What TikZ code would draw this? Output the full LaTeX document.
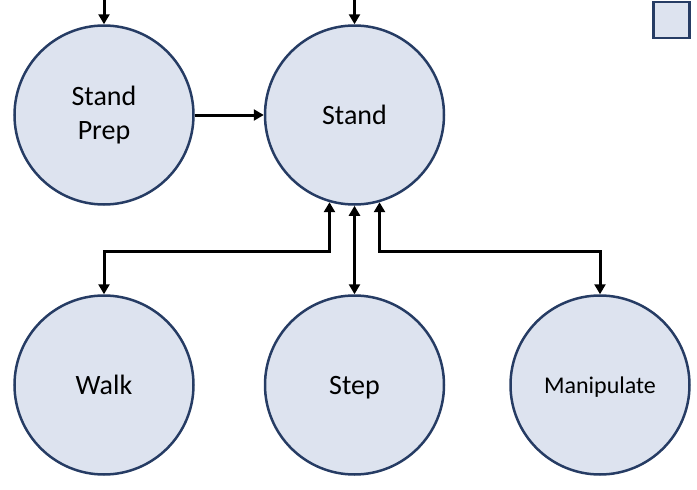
\documentclass[tikz,border=0pt]{standalone}
\usepackage{fontspec}
\setmainfont{Carlito}
\usetikzlibrary{arrows.meta}
\definecolor{cfill}{HTML}{DDE3EF}
\definecolor{cline}{HTML}{263C64}
\begin{document}
\begin{tikzpicture}[x=1pt,y=-1pt,
  state/.style={circle,draw=cline,fill=cfill,line width=2.5pt,minimum size=179pt,inner sep=0pt,font=\fontsize{28}{34}\selectfont,align=center},
  oneline/.style={text depth=0pt},
  conn/.style={line width=3pt,-{Triangle[length=10pt,width=11pt]}},
  bconn/.style={line width=3pt,{Triangle[length=10pt,width=11pt]}-{Triangle[length=10pt,width=11pt]}}]
\useasboundingbox (0,0) rectangle (697,490);
\node[state] (prep) at (104,115) {Stand\\Prep};
\node[state,oneline] (stand) at (354.5,115) {Stand};
\node[state,oneline] (walk) at (104,385) {Walk};
\node[state,oneline] (step) at (354.5,385) {Step};
\node[state,oneline,font=\fontsize{24}{29}\selectfont] (manip) at (600,385) {Manipulate};
\node[draw=cline,fill=cfill,line width=2.5pt,minimum size=36pt,inner sep=0pt] (key) at (671.5,20) {};
\coordinate (prepin) at (104,0);
\coordinate (standin) at (354.5,0);
\coordinate (bus) at (354.5,251);
\draw[conn] (prepin) -- (prep);
\draw[conn] (standin) -- (stand);
\draw[conn] (prep) -- (stand);
\draw[bconn] (walk.north) -- (walk.north |- bus) -| (stand.-106);
\draw[bconn] (step) -- (stand);
\draw[bconn] (manip.north) -- (manip.north |- bus) -| (stand.-74);
\end{tikzpicture}
\end{document}
